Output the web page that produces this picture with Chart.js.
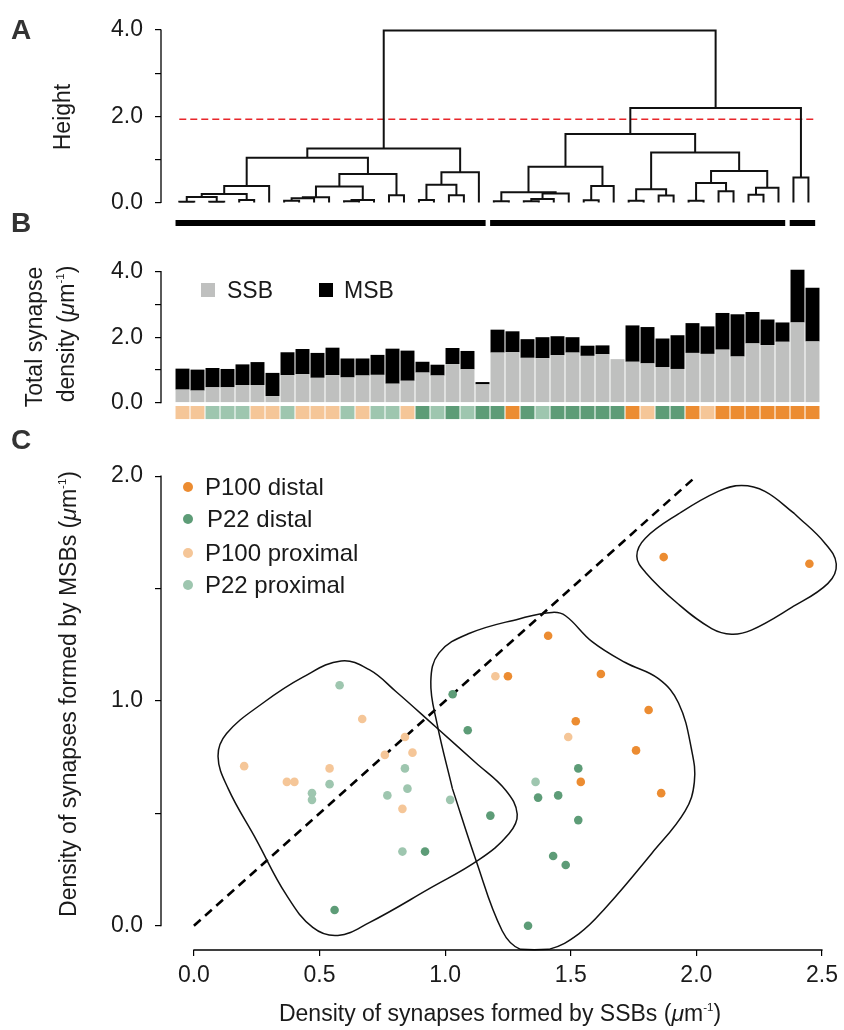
<!DOCTYPE html>
<html>
<head>
<meta charset="utf-8">
<script src="https://cdn.jsdelivr.net/npm/chart.js@4.4.1/dist/chart.umd.min.js"></script>
<style>
  body { margin: 0; background: #fff; font-family: "Liberation Sans", Arial, sans-serif; color: #1a1a1a; }
  #wrap { position: relative; width: 844px; height: 1030px; overflow: hidden; }
  canvas { position: absolute; left: 0; }
  .t { position: absolute; white-space: nowrap; font-size: 23px; line-height: 1; }
  .rot { transform: translate(-50%, -50%) rotate(-90deg); }
  .mid { transform: translateY(-50%); }
  .ctr { transform: translate(-50%, -50%); }
  .panel { position: absolute; font-weight: bold; font-size: 28px; line-height: 1; color: #333; }
  sup { font-size: 0.5em; vertical-align: 0.8em; line-height: 0; }
  .sq { position: absolute; width: 14px; height: 14px; }
  .dot { position: absolute; width: 10px; height: 10px; border-radius: 50%; transform: translate(-50%, -50%); }
</style>
</head>
<body>
<div id="wrap">
  <canvas id="dendro" width="844" height="240" style="top:0"></canvas>
  <canvas id="bars" width="844" height="190" style="top:240px"></canvas>
  <canvas id="scatter" width="844" height="600" style="top:430px"></canvas>

  <div class="panel" style="left:11px;top:16px">A</div>
  <div class="panel" style="left:11px;top:209px">B</div>
  <div class="panel" style="left:11px;top:426px">C</div>

  <div class="t rot" style="left:62px;top:117px">Height</div>
  <div class="t rot" style="left:34px;top:337px">Total synapse</div>
  <div class="t rot" style="left:66px;top:334px">density (<i>μ</i>m<sup>-1</sup>)</div>
  <div class="t rot" style="left:68px;top:694px">Density of synapses formed by MSBs (<i>μ</i>m<sup>-1</sup>)</div>
  <div class="t ctr" style="left:500px;top:1013px">Density of synapses formed by SSBs (<i>μ</i>m<sup>-1</sup>)</div>

  <div id="legB"></div>
  <div id="legC"></div>
</div>

<script>
// ---- panel A: dendrogram, leaves are already in plotted order 0..42
// node = [left, right, height], a bare number is a leaf
const tree = [
  [
    [
      [[[[0, 1, 0.02], [2, 3, 0.02], 0.13], [4, 5, 0.06], 0.20], 6, 0.38],
      [[[[[7, 8, 0.04], 9, 0.10], 10, 0.12], [[11, 12, 0.03], 13, 0.06], 0.37], [14, 15, 0.17], 0.66],
      1.04
    ],
    [[[16, 17, 0.06], [18, 19, 0.17], 0.41], 20, 0.70],
    1.25
  ],
  [
    [
      [[[21, 22, 0.03], [[[23, 24, 0.03], 25, 0.08], 26, 0.21], 0.24], [[27, 28, 0.05], 29, 0.38], 0.83],
      [[[30, 31, 0.04], [32, 33, 0.16], 0.31], [[[34, 35, 0.04], [36, 37, 0.26], 0.45], [[38, 39, 0.18], 40, 0.34], 0.73], 1.16],
      1.59
    ],
    [41, 42, 0.58],
    2.19
  ],
  3.99
];
const cutHeight = 1.93;
const clusterFirst = [0, 21, 41];
const clusterLast = [20, 40, 42];
const heightTicks = [0, 1, 2, 3, 4];
const heightLabels = ['0.0', '', '2.0', '', '4.0'];

// ---- panel B: per-dendrite densities (same order as the leaves)
const ssb = [0.40, 0.37, 0.47, 0.47, 0.54, 0.54, 0.20, 0.84, 0.87, 0.76, 0.84, 0.77, 0.83, 0.85, 0.58,
  0.67, 0.92, 0.83, 1.18, 1.02, 0.56, 1.53, 1.54, 1.37, 1.36, 1.45, 1.53, 1.43, 1.48, 1.33,
  1.25, 1.20, 1.09, 1.03, 1.52, 1.49, 1.62, 1.41, 1.81, 1.76, 1.86, 2.45, 1.87];
const msb = [0.64, 0.64, 0.59, 0.56, 0.63, 0.70, 0.71, 0.70, 0.77, 0.76, 0.84, 0.58, 0.52, 0.61, 1.07,
  0.92, 0.33, 0.33, 0.49, 0.56, 0.07, 0.70, 0.64, 0.57, 0.64, 0.58, 0.47, 0.31, 0.27, 0.00,
  1.11, 1.11, 0.87, 1.03, 0.91, 0.84, 1.12, 1.29, 0.96, 0.78, 0.59, 1.61, 1.64];
const groupNames = ['P100 distal', 'P22 distal', 'P100 proximal', 'P22 proximal'];
// index into groupNames for each dendrite
const barGroup = [2, 2, 3, 3, 3, 2, 2, 3, 2, 2, 2, 3, 2, 3, 3, 2, 1, 3, 1, 3, 1, 1, 0, 1, 3, 1,
  1, 1, 1, 1, 0, 2, 1, 1, 0, 2, 0, 0, 0, 0, 0, 0, 0];
const densityTicks = [0, 1, 2, 3, 4];
const densityLabels = ['0.0', '', '2.0', '', '4.0'];

// ---- panel C
const ssbTicks = [0, 0.5, 1, 1.5, 2, 2.5];
const ssbLabels = ['0.0', '0.5', '1.0', '1.5', '2.0', '2.5'];
const msbTicks = [0, 0.5, 1, 1.5, 2];
const msbLabels = ['0.0', '', '1.0', '', '2.0'];
const diagonal = [[0, 0], [2, 2]];
const hullLow = [[0.963, 0.884], [1.122, 0.725], [1.241, 0.603], [1.287, 0.496], [1.254, 0.409], [1.135, 0.294],
  [0.937, 0.165], [0.698, 0.014], [0.573, -0.043], [0.473, -0.007], [0.368, 0.137], [0.249, 0.381],
  [0.136, 0.611], [0.096, 0.754], [0.130, 0.855], [0.275, 0.991], [0.434, 1.106], [0.586, 1.178],
  [0.698, 1.139], [0.804, 1.042], [0.963, 0.884]];
const hullMid = [[1.029, 0.610], [0.968, 0.898], [0.943, 1.085], [0.976, 1.214], [1.095, 1.300], [1.294, 1.365],
  [1.426, 1.394], [1.479, 1.379], [1.585, 1.264], [1.717, 1.171], [1.849, 1.099], [1.929, 0.991],
  [1.981, 0.783], [1.992, 0.639], [1.955, 0.510], [1.823, 0.323], [1.638, 0.079], [1.532, -0.036],
  [1.413, -0.105], [1.300, -0.105], [1.227, -0.022], [1.122, 0.294], [1.029, 0.610]];
const hullHigh = [[2.392, 1.832], [2.511, 1.703], [2.557, 1.609], [2.524, 1.523], [2.378, 1.415], [2.219, 1.315],
  [2.140, 1.297], [2.061, 1.322], [1.929, 1.430], [1.797, 1.573], [1.763, 1.645], [1.797, 1.724],
  [1.929, 1.832], [2.087, 1.932], [2.180, 1.958], [2.273, 1.932], [2.392, 1.832]];

const groupColors = ['#ec8c31', '#5d9c77', '#f5c698', '#9ec6af'];
const FONT = '"Liberation Sans", Arial, sans-serif';
Chart.defaults.font.family = FONT;
Chart.defaults.color = '#1a1a1a';
Chart.defaults.animation = false;

// R-like axis line that only spans first..last tick
const axisLine = {
  id: 'axisLine',
  afterDatasetsDraw(chart, args, opts) {
    const ctx = chart.ctx;
    ctx.save();
    ctx.strokeStyle = '#000';
    ctx.lineWidth = 1.3;
    ctx.beginPath();
    ['x', 'y'].forEach(k => {
      const r = opts[k], s = chart.scales[k];
      if (!r || !s) return;
      const a = s.getPixelForValue(r[0]), b = s.getPixelForValue(r[1]);
      if (k === 'x') { ctx.moveTo(a - 0.6, s.top); ctx.lineTo(b + 0.6, s.top); }
      else { ctx.moveTo(s.right, a + 0.6); ctx.lineTo(s.right, b - 0.6); }
    });
    ctx.stroke();
    ctx.restore();
  }
};

function yAxis(ticks, labels, min, max) {
  return {
    min: min, max: max,
    afterFit: s => { s.width = 161; },
    afterBuildTicks: s => { s.ticks = ticks.map(v => ({ value: v })); },
    ticks: { font: { size: 23 }, color: '#1a1a1a', padding: 12, autoSkip: false,
      callback: (v, i) => labels[i] },
    grid: { drawOnChartArea: false, color: '#000', lineWidth: 1.2, tickLength: 6 },
    border: { display: false }
  };
}

// ---- A
const segs = [];
function walk(node) {
  if (typeof node === 'number') return { x: node, y: 0 };
  const a = walk(node[0]), b = walk(node[1]), h = node[2];
  segs.push([{ x: a.x, y: a.y }, { x: a.x, y: h }, { x: b.x, y: h }, { x: b.x, y: b.y }]);
  return { x: (a.x + b.x) / 2, y: h };
}
walk(tree);

const dendroSets = segs.map(d => ({
  data: d, showLine: true, borderColor: '#111', borderWidth: 2, pointRadius: 0, clip: false
}));
dendroSets.push({
  data: [{ x: 0, y: cutHeight }, { x: 42.4, y: cutHeight }], showLine: true,
  borderColor: '#e8262b', borderWidth: 1.6, borderDash: [7, 4], pointRadius: 0, clip: false
});
clusterFirst.forEach((f, k) => {
  dendroSets.push({
    data: [{ x: f - 0.25, y: -0.475 }, { x: clusterLast[k] + 0.45, y: -0.475 }], showLine: true,
    borderColor: '#000', borderWidth: 6, borderCapStyle: 'butt', pointRadius: 0, clip: false
  });
});

new Chart(document.getElementById('dendro'), {
  type: 'scatter',
  data: { datasets: dendroSets },
  options: {
    responsive: false,
    layout: { autoPadding: false, padding: { top: 30, right: 14, bottom: 37.5, left: 0 } },
    plugins: { legend: { display: false }, tooltip: { enabled: false }, axisLine: { y: [0, 4] } },
    scales: {
      x: { type: 'linear', display: false, min: -1.22, max: 43.44 },
      y: yAxis(heightTicks, heightLabels, 0, 4)
    }
  },
  plugins: [axisLine]
});

// ---- B
const barCommon = { stack: 's', barPercentage: 0.93, categoryPercentage: 1, borderWidth: 0, clip: false };
new Chart(document.getElementById('bars'), {
  type: 'bar',
  data: {
    datasets: [
      Object.assign({ label: 'SSB', data: ssb.map((v, i) => ({ x: i, y: v })), backgroundColor: '#bfc0bf' }, barCommon),
      Object.assign({ label: 'MSB', data: msb.map((v, i) => ({ x: i, y: v })), backgroundColor: '#000' }, barCommon),
      Object.assign({ label: 'gap', data: barGroup.map((g, i) => ({ x: i, y: -0.1 })), backgroundColor: 'rgba(0,0,0,0)' }, barCommon),
      Object.assign({ label: 'group', data: barGroup.map((g, i) => ({ x: i, y: -0.4 })),
        backgroundColor: barGroup.map(g => groupColors[g]) }, barCommon)
    ]
  },
  options: {
    responsive: false,
    layout: { autoPadding: false, padding: { top: 31.7, right: 14, bottom: 27.3, left: 0 } },
    plugins: { legend: { display: false }, tooltip: { enabled: false }, axisLine: { y: [0, 4] } },
    scales: {
      x: { type: 'linear', display: false, min: -1.433, max: 43.167, offset: false, grid: { offset: false } },
      y: Object.assign(yAxis(densityTicks, densityLabels, 0, 4), { stacked: true })
    }
  },
  plugins: [axisLine]
});

// ---- C
const scatterSets = groupNames.map((name, g) => ({
  label: name,
  data: ssb.map((v, i) => ({ x: v, y: msb[i], g: barGroup[i] })).filter(p => p.g === g),
  backgroundColor: groupColors[g], borderWidth: 0, pointRadius: 4.3, order: 0, clip: false
}));
const lineSets = [hullLow, hullMid, hullHigh].map(h => ({
  data: h.map(p => ({ x: p[0], y: p[1] })), showLine: true, tension: 0.4,
  borderColor: '#111', borderWidth: 1.5, pointRadius: 0, order: 1, clip: false
}));
lineSets.push({
  data: diagonal.map(p => ({ x: p[0], y: p[1] })), showLine: true,
  borderColor: '#000', borderWidth: 2.6, borderDash: [9, 6], pointRadius: 0, order: 2, clip: false
});

new Chart(document.getElementById('scatter'), {
  type: 'scatter',
  data: { datasets: scatterSets.concat(lineSets) },
  options: {
    responsive: false,
    layout: { autoPadding: false, padding: { top: 10, right: 2, bottom: 0, left: 0 } },
    plugins: { legend: { display: false }, tooltip: { enabled: false }, axisLine: { x: [0, 2.5], y: [0, 2] } },
    scales: {
      x: {
        type: 'linear', min: -0.131, max: 2.5714,
        afterFit: s => { s.height = 80; },
        afterBuildTicks: s => { s.ticks = ssbTicks.map(v => ({ value: v })); },
        ticks: { font: { size: 23 }, color: '#1a1a1a', padding: 6, autoSkip: false, maxRotation: 0,
          callback: (v, i) => ssbLabels[i] },
        grid: { drawOnChartArea: false, color: '#000', lineWidth: 1.2, tickLength: 6 },
        border: { display: false }
      },
      y: yAxis(msbTicks, msbLabels, -0.1078, 2.0905)
    }
  },
  plugins: [axisLine]
});

// ---- legends
const legB = document.getElementById('legB');
legB.innerHTML =
  '<div class="sq" style="left:201px;top:283px;background:#bfc0bf"></div>' +
  '<div class="t mid" style="left:227px;top:290px">SSB</div>' +
  '<div class="sq" style="left:319px;top:283px;background:#000"></div>' +
  '<div class="t mid" style="left:344px;top:290px">MSB</div>';

const legC = document.getElementById('legC');
const legY = [487, 519, 553, 585];
const legOrder = [0, 1, 2, 3];
legC.innerHTML = legOrder.map((g, k) =>
  '<div class="dot" style="left:188px;top:' + legY[k] + 'px;background:' + groupColors[g] + '"></div>' +
  '<div class="t mid" style="font-size:24px;left:' + (g === 1 ? 207 : 205) + 'px;top:' + legY[k] + 'px">' + groupNames[g] + '</div>'
).join('');
</script>
</body>
</html>
